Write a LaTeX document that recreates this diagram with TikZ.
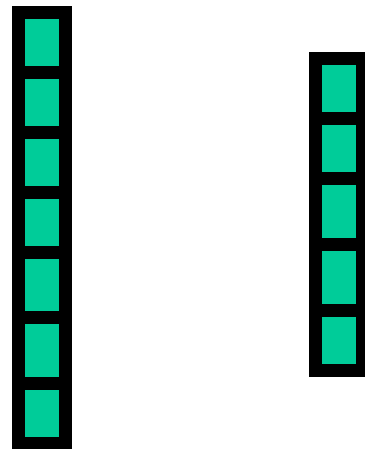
\documentclass[tikz,border=0pt]{standalone}
\definecolor{cellgreen}{HTML}{00CC99}
\tikzset{
  strip/.style={fill=black,rectangle,inner sep=0pt,outer sep=0pt},
  cell/.style={fill=cellgreen,rectangle,inner sep=0pt,outer sep=0pt,minimum width=34pt}
}
\begin{document}
\begin{tikzpicture}[x=1pt,y=-1pt]
  \useasboundingbox (0,0) rectangle (365,449);
  % left strip
  \node[strip,minimum width=60pt,minimum height=443pt] (L) at (42,227.5) {};
  \node[cell,minimum height=47pt] (l1) at (42,42.5) {};
  \node[cell,minimum height=47pt] (l2) at (42,102.5) {};
  \node[cell,minimum height=47pt] (l3) at (42,162.5) {};
  \node[cell,minimum height=47pt] (l4) at (42,222.5) {};
  \node[cell,minimum height=52pt] (l5) at (42,285) {};
  \node[cell,minimum height=53pt] (l6) at (42,350.5) {};
  \node[cell,minimum height=47pt] (l7) at (42,413.5) {};
  % right strip
  \node[strip,minimum width=56pt,minimum height=325pt] (R) at (337,214.5) {};
  \node[cell,minimum height=47pt] (r1) at (339,88.5) {};
  \node[cell,minimum height=47pt] (r2) at (339,148.5) {};
  \node[cell,minimum height=53pt] (r3) at (339,211.5) {};
  \node[cell,minimum height=53pt] (r4) at (339,277.5) {};
  \node[cell,minimum height=47pt] (r5) at (339,340.5) {};
\end{tikzpicture}
\end{document}
